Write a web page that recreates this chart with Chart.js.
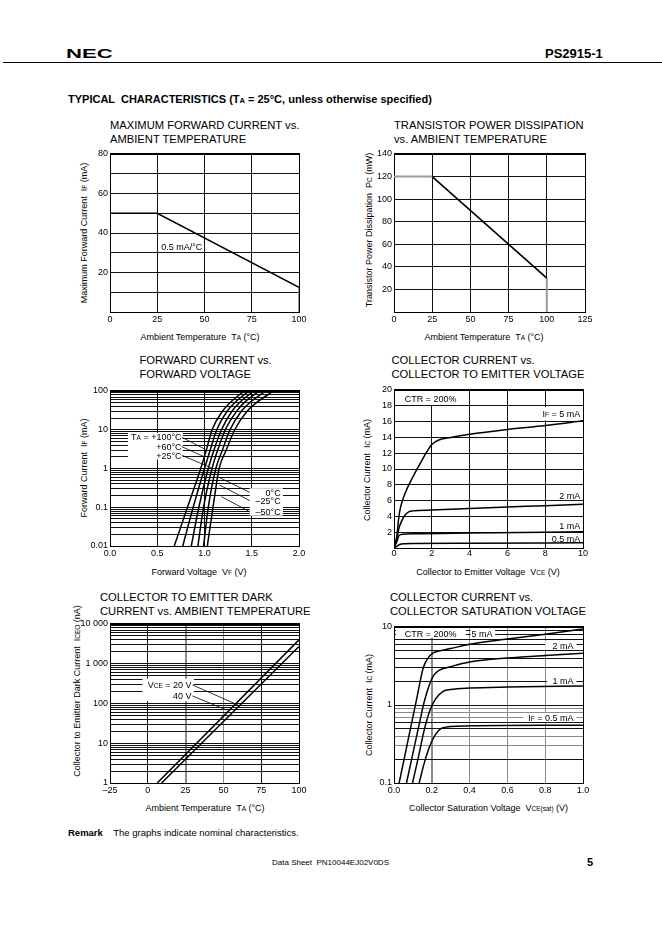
<!DOCTYPE html>
<html>
<head>
<meta charset="utf-8">
<script src="https://cdn.jsdelivr.net/npm/chart.js@4.4.1/dist/chart.umd.min.js"></script>
<style>
html,body{margin:0;padding:0;background:#fff;}
body{width:662px;height:936px;position:relative;overflow:hidden;font-family:"Liberation Sans",Arial,Helvetica,sans-serif;color:#000;}
.t{position:absolute;white-space:pre;line-height:1;transform:translateY(-50%);}
.ttl{font-size:11.2px;}
.ax{position:absolute;white-space:pre;line-height:1;font-size:9px;transform:translate(-50%,-50%);}
.rot{position:absolute;white-space:pre;line-height:1;font-size:9px;transform:translate(-50%,-50%) rotate(-90deg);}
.s{font-size:6.5px;}
canvas{position:absolute;}
</style>
</head>
<body>
<div class="t" style="left:66px;top:52.5px;font-size:13px;font-weight:bold;transform:translateY(-50%) scaleX(1.7);transform-origin:0 50%;">NEC</div>
<div class="t" style="left:545px;top:52.5px;font-size:13px;font-weight:bold;">PS2915-1</div>
<div style="position:absolute;left:3px;top:62px;width:659px;height:1px;background:#000;"></div>
<div class="t" style="left:68px;top:99px;font-size:11px;font-weight:bold;">TYPICAL  CHARACTERISTICS (T<span style="font-size:7.5px">A</span> = 25°C, unless otherwise specified)</div>

<div class="t ttl" style="left:110px;top:125.5px;">MAXIMUM FORWARD CURRENT vs.</div>
<div class="t ttl" style="left:110px;top:139.5px;">AMBIENT TEMPERATURE</div>
<div class="t ttl" style="left:394px;top:125.5px;">TRANSISTOR POWER DISSIPATION</div>
<div class="t ttl" style="left:394px;top:139.5px;">vs. AMBIENT TEMPERATURE</div>
<div class="t ttl" style="left:139.5px;top:361px;">FORWARD CURRENT vs.</div>
<div class="t ttl" style="left:139.5px;top:375px;">FORWARD VOLTAGE</div>
<div class="t ttl" style="left:391.5px;top:361px;">COLLECTOR CURRENT vs.</div>
<div class="t ttl" style="left:391.5px;top:375px;">COLLECTOR TO EMITTER VOLTAGE</div>
<div class="t ttl" style="left:100px;top:598px;">COLLECTOR TO EMITTER DARK</div>
<div class="t ttl" style="left:100px;top:611.5px;">CURRENT vs. AMBIENT TEMPERATURE</div>
<div class="t ttl" style="left:390px;top:598px;">COLLECTOR CURRENT vs.</div>
<div class="t ttl" style="left:390px;top:611.5px;">COLLECTOR SATURATION VOLTAGE</div>

<div class="rot" style="left:84px;top:233px;">Maximum Forward Current  I<span class="s">F</span> (mA)</div>
<div class="ax" style="left:200px;top:336.5px;">Ambient Temperature  T<span class="s">A</span> (°C)</div>
<div class="rot" style="left:368.5px;top:230px;">Transistor Power Dissipation  P<span class="s">C</span> (mW)</div>
<div class="ax" style="left:484px;top:336.5px;">Ambient Temperature  T<span class="s">A</span> (°C)</div>
<div class="rot" style="left:84px;top:468px;">Forward Current  I<span class="s">F</span> (mA)</div>
<div class="ax" style="left:199px;top:571.5px;">Forward Voltage  V<span class="s">F</span> (V)</div>
<div class="rot" style="left:367px;top:470px;">Collector Current  I<span class="s">C</span> (mA)</div>
<div class="ax" style="left:488px;top:571.5px;">Collector to Emitter Voltage  V<span class="s">CE</span> (V)</div>
<div class="rot" style="left:77px;top:691px;">Collector to Emitter Dark Current  I<span class="s">CEO</span> (nA)</div>
<div class="ax" style="left:205px;top:808px;">Ambient Temperature  T<span class="s">A</span> (°C)</div>
<div class="rot" style="left:368.5px;top:705px;">Collector Current  I<span class="s">C</span> (mA)</div>
<div class="ax" style="left:488.5px;top:808px;">Collector Saturation Voltage  V<span class="s">CE(sat)</span> (V)</div>

<div class="t" style="left:68px;top:833px;font-size:9.5px;"><b>Remark</b>    The graphs indicate nominal characteristics.</div>
<div class="ax" style="left:330.5px;top:863px;font-size:8px;">Data Sheet  PN10044EJ02V0DS</div>
<div class="t" style="left:587px;top:862px;font-size:11px;font-weight:bold;">5</div>

<script>
// ================= DATA =================
// Chart 1: Maximum forward current vs ambient temperature
const c1Temp = [0, 25, 100];
const c1Current = [50, 50, 12.5];
const c1DropTemp = [100, 100];
const c1DropCurrent = [12.5, 0];
const c1XTicks = [0, 25, 50, 75, 100];
const c1XLabels = ['0', '25', '50', '75', '100'];
const c1YTicks = [0, 10, 20, 30, 40, 50, 60, 70, 80];
const c1YLabels = ['', '', '20', '', '40', '', '60', '', '80'];

// Chart 2: Transistor power dissipation vs ambient temperature
const c2FlatTemp = [0, 25];
const c2FlatPower = [120, 120];
const c2Temp = [25, 100];
const c2Power = [120, 30];
const c2DropTemp = [100, 100];
const c2DropPower = [30, 0];
const c2XTicks = [0, 25, 50, 75, 100, 125];
const c2XLabels = ['0', '25', '50', '75', '100', '125'];
const c2YTicks = [0, 20, 40, 60, 80, 100, 120, 140];
const c2YLabels = ['', '20', '40', '60', '80', '100', '120', '140'];

// Chart 3: Forward current vs forward voltage (IF in mA, VF in V)
const c3Current = [0.01, 0.1, 1, 3, 10, 30, 50, 100];
const c3V100 = [0.68, 0.82, 0.96, 1.02, 1.08, 1.19, 1.27, 1.42];
const c3V60 = [0.77, 0.88, 1.00, 1.06, 1.13, 1.24, 1.32, 1.47];
const c3V25 = [0.86, 0.94, 1.04, 1.10, 1.18, 1.29, 1.37, 1.52];
const c3V0 = [0.93, 0.99, 1.08, 1.14, 1.22, 1.34, 1.42, 1.58];
const c3Vm25 = [0.99, 1.04, 1.12, 1.19, 1.27, 1.39, 1.48, 1.65];
const c3Vm50 = [1.03, 1.09, 1.155, 1.23, 1.32, 1.45, 1.55, 1.73];
const c3XTicks = [0, 0.5, 1.0, 1.5, 2.0];
const c3XLabels = ['0.0', '0.5', '1.0', '1.5', '2.0'];
const c3Decades = [0.01, 0.1, 1, 10, 100];
const c3DecadeLabels = ['0.01', '0.1', '1', '10', '100'];

// Chart 4: Collector current vs collector-emitter voltage (CTR = 200%)
const c4V5 = [0, 0.15, 0.25, 0.35, 0.6, 1.0, 1.5, 2.0, 2.4, 3, 4, 6, 8, 10];
const c4I5 = [0, 1.5, 3.8, 5.2, 7.0, 9.0, 11.2, 13.1, 13.7, 14.0, 14.4, 15.0, 15.5, 16.1];
const c4V2 = [0, 0.15, 0.25, 0.4, 0.6, 0.8, 1.0, 2, 4, 6, 8, 10];
const c4I2 = [0, 1.2, 2.4, 3.4, 4.2, 4.6, 4.7, 4.8, 5.0, 5.2, 5.35, 5.55];
const c4V1 = [0, 0.15, 0.25, 0.35, 0.5, 1, 4, 10];
const c4I1 = [0, 0.8, 1.5, 1.7, 1.75, 1.8, 1.9, 2.05];
const c4V05 = [0, 0.15, 0.3, 0.6, 1, 4, 10];
const c4I05 = [0, 0.2, 0.45, 0.55, 0.58, 0.6, 0.65];
const c4XTicks = [0, 2, 4, 6, 8, 10];
const c4XLabels = ['0', '2', '4', '6', '8', '10'];
const c4YTicks = [0, 2, 4, 6, 8, 10, 12, 14, 16, 18, 20];
const c4YLabels = ['', '2', '4', '6', '8', '10', '12', '14', '16', '18', '20'];

// Chart 5: Collector to emitter dark current vs ambient temperature
const c5Temp40 = [6.25, 100];
const c5Dark40 = [1, 4000];
const c5Temp20 = [9.1, 100];
const c5Dark20 = [1, 2730];
const c5XTicks = [-25, 0, 25, 50, 75, 100];
const c5XLabels = ['–25', '0', '25', '50', '75', '100'];
const c5Decades = [1, 10, 100, 1000, 10000];
const c5DecadeLabels = ['1', '10', '100', '1 000', '10 000'];

// Chart 6: Collector current vs collector saturation voltage
const c6V5 = [0.027, 0.06, 0.09, 0.12, 0.155, 0.18, 0.21, 0.25, 0.3, 0.4, 0.6, 0.8, 1.0];
const c6I5 = [0.1, 0.24, 0.54, 1.2, 3.0, 4.0, 4.7, 5.0, 5.3, 6.0, 7.0, 8.1, 9.4];
const c6V2 = [0.066, 0.1, 0.13, 0.16, 0.19, 0.21, 0.24, 0.3, 0.4, 0.6, 0.8, 1.0];
const c6I2 = [0.1, 0.24, 0.52, 1.1, 1.9, 2.4, 2.8, 3.1, 3.55, 4.0, 4.3, 4.6];
const c6V1 = [0.098, 0.13, 0.16, 0.19, 0.22, 0.26, 0.3, 0.4, 0.6, 1.0];
const c6I1 = [0.1, 0.22, 0.48, 0.85, 1.2, 1.5, 1.58, 1.65, 1.7, 1.75];
const c6V05 = [0.133, 0.16, 0.19, 0.22, 0.25, 0.3, 0.4, 1.0];
const c6I05 = [0.1, 0.18, 0.3, 0.42, 0.5, 0.53, 0.54, 0.55];
const c6XTicks = [0, 0.2, 0.4, 0.6, 0.8, 1.0];
const c6XLabels = ['0.0', '0.2', '0.4', '0.6', '0.8', '1.0'];
const c6Decades = [0.1, 1, 10];
const c6DecadeLabels = ['0.1', '1', '10'];

// ================= HELPERS =================
const FONT = '"Liberation Sans", Arial, Helvetica, sans-serif';
Chart.defaults.font.family = FONT;

function pair(xs, ys) { return xs.map((x, i) => ({x: x, y: ys[i]})); }
function logGrid(decades) {
  const g = [];
  for (let d = 0; d < decades.length - 1; d++)
    for (let m = 1; m <= 9; m++) g.push(+(decades[d] * m).toPrecision(6));
  g.push(decades[decades.length - 1]);
  return g;
}
function logLabels(grid, decades, names) {
  return grid.map(v => { const k = decades.indexOf(v); return k >= 0 ? names[k] : ''; });
}
function parts(str) {
  return str.split(/(\{[^}]*\})/).filter(s => s).map(s => s[0] === '{' ? [s.slice(1, -1), true] : [s, false]);
}
function drawRich(ctx, str, x, y, align) {
  const size = 9;
  const ps = parts(str);
  const fb = size + 'px ' + FONT, fs = '6.5px ' + FONT;
  let w = 0;
  ps.forEach(p => { ctx.font = p[1] ? fs : fb; w += ctx.measureText(p[0]).width; });
  let cx = align === 'right' ? x - w : (align === 'center' ? x - w / 2 : x);
  ctx.textAlign = 'left'; ctx.textBaseline = 'alphabetic'; ctx.fillStyle = '#000';
  const base = y + size * 0.358;
  ps.forEach(p => { ctx.font = p[1] ? fs : fb; ctx.fillText(p[0], cx, base); cx += ctx.measureText(p[0]).width; });
}

function notesPlugin(notes) {
  return {
    id: 'frameNotes',
    beforeDatasetsDraw(chart) {
      const {ctx, chartArea: a} = chart;
      const x = chart.scales.x, y = chart.scales.y;
      ctx.save();
      ctx.fillStyle = '#fff';
      (notes.boxes || []).forEach(b => {
        const x1 = x.getPixelForValue(b[0]), x2 = x.getPixelForValue(b[2]);
        const y1 = y.getPixelForValue(b[1]), y2 = y.getPixelForValue(b[3]);
        ctx.fillRect(Math.min(x1, x2), Math.min(y1, y2), Math.abs(x2 - x1), Math.abs(y2 - y1));
      });
      ctx.fillStyle = '#000';
      const L = Math.round(a.left), R = Math.round(a.right), T = Math.round(a.top), B = Math.round(a.bottom);
      ctx.fillRect(L, T - 1, R - L + 1, 2);
      ctx.fillRect(L, T, 1, B - T + 1);
      ctx.fillRect(R, T, 1, B - T + 1);
      ctx.fillRect(L, B, R - L + 1, 1);
      ctx.restore();
    },
    afterDatasetsDraw(chart) {
      const {ctx} = chart;
      const x = chart.scales.x, y = chart.scales.y;
      ctx.save();
      ctx.strokeStyle = '#000'; ctx.lineWidth = 0.8;
      (notes.leaders || []).forEach(l => {
        ctx.beginPath();
        ctx.moveTo(x.getPixelForValue(l[0]), y.getPixelForValue(l[1]));
        ctx.lineTo(x.getPixelForValue(l[2]), y.getPixelForValue(l[3]));
        ctx.stroke();
      });
      (notes.labels || []).forEach(t => {
        drawRich(ctx, t.t, x.getPixelForValue(t.x), y.getPixelForValue(t.y), t.align);
      });
      ctx.restore();
    }
  };
}

function axis(s, isX) {
  return {
    type: s.type || 'linear',
    min: s.min, max: s.max,
    bounds: 'data',
    afterBuildTicks: sc => { sc.ticks = s.grid.map(v => ({value: v})); },
    afterFit: sc => { if (isX) sc.height = 22; else sc.width = 45; },
    grid: {
      color: c => (c.tick && s.gray && s.gray.indexOf(c.tick.value) >= 0) ? '#8a8a8a' : '#111',
      lineWidth: c => (c.tick && s.thick && s.thick.indexOf(c.tick.value) >= 0) ? 2 : 1,
      drawTicks: false
    },
    border: {display: false},
    ticks: {
      autoSkip: false, maxRotation: 0, minRotation: 0,
      padding: s.pad !== undefined ? s.pad : 2,
      color: '#000', font: {family: FONT, size: 9},
      callback: (v, i) => s.labels[i]
    }
  };
}

function makeChart(box, datasets, xs, ys, notes) {
  const W = box.r - box.l + 60, H = box.b - box.t + 32;
  const cv = document.createElement('canvas');
  cv.width = W; cv.height = H;
  cv.style.left = (box.l - 45) + 'px'; cv.style.top = (box.t - 10) + 'px';
  cv.style.width = W + 'px'; cv.style.height = H + 'px';
  document.body.appendChild(cv);
  return new Chart(cv, {
    type: 'line',
    data: {datasets: datasets.map(d => Object.assign({
      borderColor: '#000', borderWidth: 1.5, pointRadius: 0, fill: false, tension: 0
    }, d))},
    options: {
      responsive: false, animation: false, events: [],
      layout: {padding: {left: 0, top: 10, right: 15, bottom: 0}},
      plugins: {legend: {display: false}, tooltip: {enabled: false}},
      scales: {x: axis(xs, true), y: axis(ys, false)}
    },
    plugins: [notesPlugin(notes || {})]
  });
}

// ================= CHARTS =================
// 1
makeChart({l: 110, t: 154, r: 299, b: 312}, [
  {data: pair(c1Temp, c1Current), borderWidth: 1.6},
  {data: pair(c1DropTemp, c1DropCurrent), borderColor: '#9a9a9a', borderWidth: 2}
], {min: 0, max: 100, grid: c1XTicks, labels: c1XLabels},
   {min: 0, max: 80, grid: c1YTicks, labels: c1YLabels},
   {labels: [{t: '0.5 mA/°C', x: 27.1, y: 33.1, align: 'left'}]});

// 2
makeChart({l: 394, t: 154, r: 585, b: 312}, [
  {data: pair(c2FlatTemp, c2FlatPower), borderColor: '#9a9a9a', borderWidth: 2},
  {data: pair(c2Temp, c2Power), borderWidth: 1.6},
  {data: pair(c2DropTemp, c2DropPower), borderColor: '#9a9a9a', borderWidth: 2}
], {min: 0, max: 125, grid: c2XTicks, labels: c2XLabels},
   {min: 0, max: 140, grid: c2YTicks, labels: c2YLabels});

// 3
const c3Grid = logGrid(c3Decades);
makeChart({l: 110, t: 391, r: 299, b: 546}, [
  {data: pair(c3V100, c3Current), cubicInterpolationMode: 'monotone'},
  {data: pair(c3V60, c3Current), cubicInterpolationMode: 'monotone'},
  {data: pair(c3V25, c3Current), cubicInterpolationMode: 'monotone'},
  {data: pair(c3V0, c3Current), cubicInterpolationMode: 'monotone'},
  {data: pair(c3Vm25, c3Current), cubicInterpolationMode: 'monotone'},
  {data: pair(c3Vm50, c3Current), cubicInterpolationMode: 'monotone'}
], {min: 0, max: 2, grid: c3XTicks, labels: c3XLabels},
   {type: 'logarithmic', min: 0.01, max: 100, grid: c3Grid, labels: logLabels(c3Grid, c3Decades, c3DecadeLabels)},
   {
     boxes: [[0.19, 8.3, 0.77, 1.72], [1.479, 0.31, 1.83, 0.0605]],
     leaders: [[0.76, 6.4, 1.01, 3.1], [0.76, 3.65, 1.0, 2.0], [0.76, 2.19, 1.07, 1.05],
               [1.479, 0.243, 1.16, 0.58], [1.479, 0.148, 1.16, 0.375], [1.479, 0.0767, 1.18, 0.187]],
     labels: [
       {t: 'T{A} = +100°C', x: 0.757, y: 6.4, align: 'right'},
       {t: '+60°C', x: 0.757, y: 3.65, align: 'right'},
       {t: '+25°C', x: 0.757, y: 2.19, align: 'right'},
       {t: '0°C', x: 1.806, y: 0.243, align: 'right'},
       {t: '–25°C', x: 1.806, y: 0.148, align: 'right'},
       {t: '–50°C', x: 1.806, y: 0.0767, align: 'right'}
     ]
   });

// 4
makeChart({l: 394, t: 390, r: 583, b: 548}, [
  {data: pair(c4V5, c4I5), cubicInterpolationMode: 'monotone'},
  {data: pair(c4V2, c4I2), cubicInterpolationMode: 'monotone'},
  {data: pair(c4V1, c4I1), cubicInterpolationMode: 'monotone'},
  {data: pair(c4V05, c4I05), cubicInterpolationMode: 'monotone'}
], {min: 0, max: 10, grid: c4XTicks, labels: c4XLabels, pad: 0.5},
   {min: 0, max: 20, grid: c4YTicks, labels: c4YLabels},
   {
     boxes: [[0.35, 18.1, 3.5, 19.9], [7.6, 16.15, 9.95, 17.85], [8.3, 6.1, 9.95, 7.2], [8.3, 2.25, 9.95, 3.4], [8.1, 0.75, 9.95, 1.65]],
     labels: [
       {t: 'CTR = 200%', x: 0.57, y: 18.86, align: 'left'},
       {t: 'I{F} = 5 mA', x: 9.86, y: 16.96, align: 'right'},
       {t: '2 mA', x: 9.86, y: 6.6, align: 'right'},
       {t: '1 mA', x: 9.86, y: 2.79, align: 'right'},
       {t: '0.5 mA', x: 9.86, y: 1.19, align: 'right'}
     ]
   });

// 5
const c5Grid = logGrid(c5Decades);
makeChart({l: 110, t: 624, r: 299, b: 783}, [
  {data: pair(c5Temp40, c5Dark40)},
  {data: pair(c5Temp20, c5Dark20)}
], {min: -25, max: 100, grid: c5XTicks, labels: c5XLabels, gray: [25, 50], thick: [25]},
   {type: 'logarithmic', min: 1, max: 10000, grid: c5Grid, labels: logLabels(c5Grid, c5Decades, c5DecadeLabels)},
   {
     boxes: [[-3.5, 420, 30.5, 114]],
     leaders: [[29.5, 293, 59.7, 91.6], [29.5, 155, 52.1, 68.5]],
     labels: [
       {t: 'V{CE} = 20 V', x: 28.9, y: 293, align: 'right'},
       {t: '40 V', x: 28.9, y: 155, align: 'right'}
     ]
   });

// 6
const c6Grid = logGrid(c6Decades);
makeChart({l: 394, t: 627, r: 583, b: 783}, [
  {data: pair(c6V5, c6I5), cubicInterpolationMode: 'monotone'},
  {data: pair(c6V2, c6I2), cubicInterpolationMode: 'monotone'},
  {data: pair(c6V1, c6I1), cubicInterpolationMode: 'monotone'},
  {data: pair(c6V05, c6I05), cubicInterpolationMode: 'monotone'}
], {min: 0, max: 1, grid: c6XTicks, labels: c6XLabels, gray: [0.2, 0.4, 0.6, 0.8], thick: [0.2]},
   {type: 'logarithmic', min: 0.1, max: 10, grid: c6Grid, labels: logLabels(c6Grid, c6Decades, c6DecadeLabels), gray: [0.3, 0.4, 0.7, 0.8, 0.9]},
   {
     boxes: [[0.01, 9.9, 0.38, 7.3], [0.405, 9.9, 0.535, 7.3], [0.8, 6.62, 0.965, 5.13], [0.81, 2.33, 0.965, 1.84], [0.685, 0.79, 0.965, 0.605]],
     labels: [
       {t: 'CTR = 200%', x: 0.057, y: 8.23, align: 'left'},
       {t: '5 mA', x: 0.41, y: 8.23, align: 'left'},
       {t: '2 mA', x: 0.95, y: 5.82, align: 'right'},
       {t: '1 mA', x: 0.95, y: 2.07, align: 'right'},
       {t: 'I{F} = 0.5 mA', x: 0.95, y: 0.69, align: 'right'}
     ]
   });
</script>
</body>
</html>
